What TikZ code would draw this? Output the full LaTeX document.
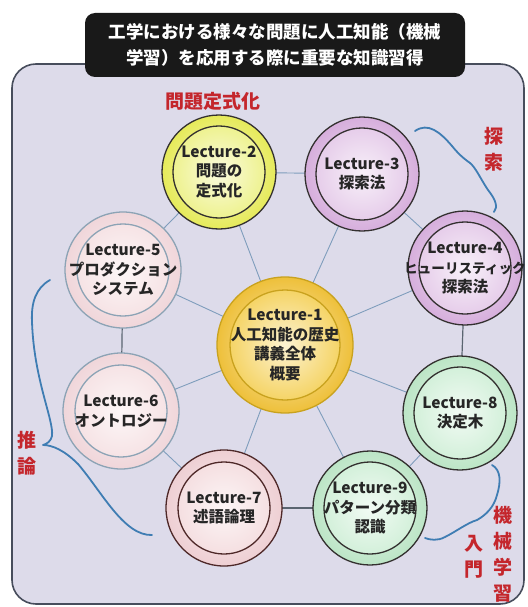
\documentclass[tikz,border=0pt]{standalone}
\usepackage{fontspec}
\newfontfamily\jp{Noto Sans CJK JP}
\definecolor{panelc}{HTML}{DDDBEA}
\definecolor{edgec}{HTML}{474D5C}
\definecolor{linec}{HTML}{7F9DBC}
\definecolor{darkc}{HTML}{5A6470}
\definecolor{redc}{HTML}{C4262C}
\definecolor{bracec}{HTML}{3F7DB3}
\definecolor{goldO}{HTML}{EEC03A}
\definecolor{goldI}{HTML}{F5D466}
\definecolor{goldS}{HTML}{C9A21E}
\definecolor{yelO}{HTML}{E6EA5A}
\definecolor{yelI}{HTML}{EEF290}
\definecolor{purO}{HTML}{D6AEDC}
\definecolor{purI}{HTML}{E6CDEA}
\definecolor{pinO}{HTML}{F0D6DA}
\definecolor{pinI}{HTML}{F6E3E5}
\definecolor{pin2O}{HTML}{EECFD3}
\definecolor{pin2I}{HTML}{F5DFE1}
\definecolor{grnO}{HTML}{BCE5C6}
\definecolor{grnI}{HTML}{D3F0DA}
\definecolor{darkS}{HTML}{33302F}
\definecolor{blueS}{HTML}{8CA3B5}
\definecolor{brownS}{HTML}{4E2828}
\newcommand\mylec[8]{%
  \node[circle, inner sep=0pt, minimum size=#7pt, line width=1.3pt, draw=#5, shade, inner color=#3!35!white, outer color=#3] (#1) at (#2) {};
  \node[circle, inner sep=0pt, minimum size=#8pt, line width=1.3pt, draw=#5, shade, inner color=#4!30!white, outer color=#4] (#1i) at (#2) {};
  \node[lbl] (#1t) at (#2) {#6};
}
\begin{document}
\begin{tikzpicture}[x=1pt,y=-1pt,
  conn/.style={draw=linec, line width=0.9pt},
  connd/.style={draw=darkc, line width=1.2pt},
  lbl/.style={align=center, inner sep=0pt, font=\jp\bfseries\fontsize{15.5}{19.5}\selectfont, text=black!85},
  redlbl/.style={text=redc, font=\jp\bfseries\fontsize{19}{26}\selectfont, align=center, inner sep=0pt},
  bracestyle/.style={draw=bracec, line width=1.8pt, line cap=round, line join=round},
]
\useasboundingbox (0,0) rectangle (527,607);
\fill[white] (0,0) rectangle (527,607);
% panel
\node[draw=edgec, fill=panelc, line width=1.6pt, rounded corners=24pt, minimum width=512pt, minimum height=540pt, inner sep=0pt] (panel) at (268,334) {};
% title
\node[fill=black!90, rounded corners=10pt, minimum width=380pt, minimum height=64pt, inner sep=0pt, text=white, align=center, font=\jp\bfseries\fontsize{17.5}{26}\selectfont] (title) at (275,45) {工学における様々な問題に人工知能（機械\\学習）を応用する際に重要な知識習得};
% positions
\coordinate (p1) at (285,345);
\coordinate (p2) at (219,172);
\coordinate (p3) at (362,174);
\coordinate (p4) at (465,268);
\coordinate (p8) at (460,413);
\coordinate (p9) at (370,508);
\coordinate (p7) at (224,508);
\coordinate (p6) at (121,411);
\coordinate (p5) at (123,270);
% connectors
\foreach \a in {2,3,4,5,6,7,8,9} {\draw[conn] (p1) -- (p\a);}
\draw[conn] (p2) -- (p3);
\draw[conn] (p3) -- (p4);
\draw[connd] (p4) -- (p8);
\draw[conn] (p8) -- (p9);
\draw[connd] (p9) -- (p7);
\draw[conn] (p7) -- (p6);
\draw[connd] (p6) -- (p5);
\draw[conn] (p5) -- (p2);
% circles
\mylec{l1}{p1}{goldO}{goldI}{goldS}{Lecture-1\\人工知能の歴史\\講義全体\\概要}{136}{110}
\mylec{l2}{p2}{yelO}{yelI}{darkS}{Lecture-2\\問題の\\定式化}{114}{92}
\mylec{l3}{p3}{purO}{purI}{darkS}{Lecture-3\\探索法}{114}{92}
\mylec{l4}{p4}{purO}{purI}{darkS}{Lecture-4\\{\fontsize{13.6}{19.5}\selectfont ヒューリスティック}\\探索法}{114}{92}
\mylec{l5}{p5}{pinO}{pinI}{blueS}{Lecture-5\\プロダクション\\システム}{116}{92}
\mylec{l6}{p6}{pinO}{pinI}{blueS}{Lecture-6\\オントロジー}{116}{92}
\mylec{l7}{p7}{pin2O}{pin2I}{brownS}{Lecture-7\\述語論理}{116}{92}
\mylec{l8}{p8}{grnO}{grnI}{darkS}{Lecture-8\\決定木}{114}{92}
\mylec{l9}{p9}{grnO}{grnI}{darkS}{Lecture-9\\パターン分類\\認識}{114}{92}
% red labels
\node[redlbl] (rl1) at (213,101) {問題定式化};
\node[redlbl] (rl2) at (494,149) {探\\索};
\node[redlbl] (rl3) at (27,453) {推\\論};
\node[redlbl] (rl4) at (503,554) {機\\械\\学\\習};
\node[redlbl] (rl5) at (474,557) {入\\門};
% braces
\coordinate (b1s) at (415,131);
\coordinate (b1t) at (470,163);
\coordinate (b1e) at (494,212);
\draw[bracestyle] (b1s) .. controls (428,122) and (440,132) .. (452,146) .. controls (460,156) and (466,160) .. (b1t) .. controls (476,168) and (480,178) .. (488,190) .. controls (496,200) and (498,207) .. (b1e);
\coordinate (b2s) at (50,280);
\coordinate (b2t) at (43,445);
\coordinate (b2e) at (152,535);
\draw[bracestyle] (b2s) .. controls (36,288) and (31,302) .. (32,322) .. controls (34,380) and (54,420) .. (52,436) .. controls (51,441) and (47,444) .. (b2t) .. controls (52,445) and (64,450) .. (78,464) .. controls (102,492) and (124,536) .. (b2e);
\coordinate (b3s) at (492,465);
\coordinate (b3t) at (477,520);
\coordinate (b3e) at (425,538);
\draw[bracestyle] (b3s) .. controls (501,470) and (501,482) .. (497,495) .. controls (494,507) and (486,515) .. (b3t) .. controls (467,523) and (457,531) .. (445,537) .. controls (438,541) and (430,540) .. (b3e);
\end{tikzpicture}
\end{document}
